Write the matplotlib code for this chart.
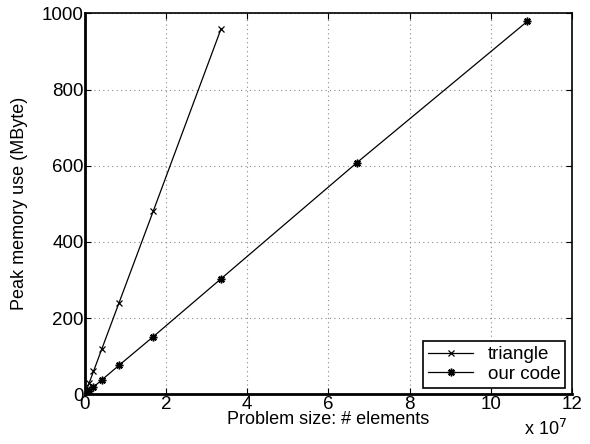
import matplotlib
matplotlib.use('Agg')
import matplotlib.pyplot as plt
import matplotlib.ticker as mticker
import numpy as np

plt.rcParams['font.family'] = ['Liberation Sans', 'DejaVu Sans']

# problem size (# elements) and peak memory (MByte)
tri_size = np.array([3.355e7, 1.68e7, 8.39e6, 4.19e6, 2.10e6, 1.05e6, 5.2e5, 2.6e5, 1.3e5])
tri_mem = np.array([960, 480, 240, 120, 60, 30, 15, 7.5, 3.8])
our_size = np.array([1.09e8, 6.70e7, 3.35e7, 1.68e7, 8.39e6, 4.19e6, 2.10e6, 1.05e6, 5.2e5, 2.6e5])
our_mem = np.array([979, 608, 303, 151, 76, 38, 19, 9.5, 4.8, 2.4])

fig = plt.figure(figsize=(5.9, 4.44), dpi=100)
ax = fig.add_axes([0.144, 0.112, 0.8255, 0.858])

ax.plot(tri_size, tri_mem, color='black', linewidth=0.9, marker='x',
        markersize=4, markeredgewidth=0.9, label='triangle')
ax.plot(our_size, our_mem, color='black', linewidth=0.9, marker=(8, 2, 0),
        markersize=5.5, markeredgewidth=1.1, label='our code')

ax.set_xlim(0, 1.2e8)
ax.set_ylim(0, 1000)
ax.set_xticks(np.arange(0, 1.21e8, 2e7))
ax.set_yticks(np.arange(0, 1001, 200))
ax.xaxis.set_major_formatter(mticker.FuncFormatter(lambda v, p: '%g' % (v / 1e7)))

ax.grid(True, linestyle=(0, (1, 3)), color='#888888', linewidth=0.8)
ax.tick_params(direction='in', top=True, right=True, length=4, labelsize=13.5, pad=1)
for s in ['left', 'bottom']:
    ax.spines[s].set_linewidth(2)
for s in ['top', 'right']:
    ax.spines[s].set_linewidth(1.2)

ax.set_xlabel('Problem size: # elements', fontsize=13, labelpad=-1)
ax.set_ylabel('Peak memory use (MByte)', fontsize=13, labelpad=10)
fig.text(0.925, 0.012, r'x 10$^7$', fontsize=13, ha='center', va='bottom')

leg = ax.legend(loc='lower right', fontsize=13.5, fancybox=False, framealpha=1,
                edgecolor='black', borderaxespad=0.35, handlelength=2.4,
                labelspacing=0.15, borderpad=0.25, handletextpad=0.8)
leg.get_frame().set_linewidth(1.2)

fig.savefig('out.png', dpi=100)
